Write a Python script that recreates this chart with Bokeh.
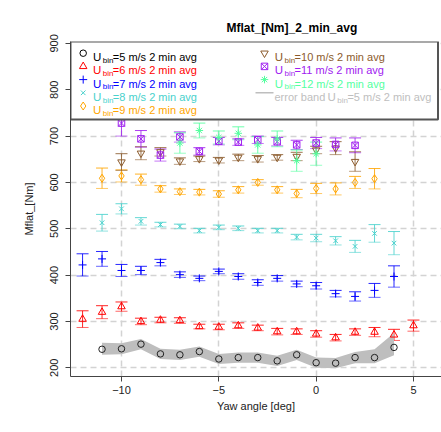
from bokeh.plotting import figure
from bokeh.models import ColumnDataSource, Whisker, TeeHead, FixedTicker, Range1d
from bokeh.core.properties import value
from bokeh.embed import file_html
from bokeh.resources import INLINE

# ---------------- data ----------------
yaw5 = [-11, -10, -9, -8, -7, -6, -5, -4, -3, -2, -1, 0, 1, 2, 3, 4]
m5 = [240, 241, 251, 230, 228, 235, 219, 222, 222, 215, 228, 211, 210, 222, 222, 244]
band5_upper = [254, 253, 262, 241, 239, 246, 230, 233, 233, 226, 239, 222, 221, 234, 240, 275]
band5_lower = [228, 229, 240, 219, 217, 224, 208, 211, 211, 204, 217, 200, 199, 210, 210, 227]

yaw6 = [-12, -11, -10, -9, -8, -7, -6, -5, -4, -3, -2, -1, 0, 1, 2, 3, 4, 5]
m6 = [305, 320, 332, 300, 303, 302, 289, 288, 291, 286, 278, 278, 273, 265, 277, 277, 271, 291]
e6 = [18, 14, 10, 7, 6, 6, 5, 6, 6, 6, 7, 6, 7, 7, 7, 10, 12, 12]

yaw7 = [-12, -11, -10, -9, -8, -7, -6, -5, -4, -3, -2, -1, 0, 1, 2, 3, 4]
m7 = [422, 435, 410, 410, 427, 401, 393, 408, 397, 384, 393, 381, 377, 360, 354, 367, 397]
e7 = [24, 16, 13, 9, 7, 6, 5, 5, 6, 6, 6, 6, 7, 7, 10, 15, 23]

yaw8 = [-11, -10, -9, -8, -7, -6, -5, -4, -3, -2, -1, 0, 1, 2, 3, 4]
m8 = [513, 543, 516, 509, 505, 496, 503, 501, 496, 496, 482, 480, 474, 462, 490, 469]
e8 = [18, 11, 8, 5, 5, 5, 5, 5, 5, 5, 6, 8, 9, 13, 19, 25]

yaw9 = [-11, -10, -9, -8, -7, -6, -5, -4, -3, -2, -1, 0, 1, 2, 3]
m9 = [609, 614, 606, 586, 580, 579, 575, 584, 600, 584, 576, 587, 586, 600, 608]
e9 = [22, 13, 12, 7, 6, 6, 7, 7, 6, 7, 9, 11, 13, 13, 22]

yaw10 = [-10, -9, -8, -7, -6, -5, -4, -3, -2, -1, 0, 1, 2]
m10 = [644, 663, 666, 646, 651, 648, 654, 651, 654, 656, 670, 674, 645]
e10 = [18, 14, 9, 7, 6, 6, 7, 7, 6, 9, 8, 14, 21]

yaw11 = [-10, -9, -8, -7, -6, -5, -4, -3, -2, -1, 0, 1, 2]
m11 = [728, 694, 659, 698, 667, 689, 687, 692, 688, 681, 685, 682, 680]
e11 = [28, 18, 13, 11, 8, 8, 7, 8, 9, 10, 12, 14, 16]

yaw12 = [-7, -6, -5, -4, -3, -2, -1, 0]
m12 = [685, 712, 697, 706, 681, 694, 647, 662]
e12 = [22, 16, 14, 14, 18, 17, 23, 25]

x_ticks = [-10, -5, 0, 5]
y_ticks = [200, 300, 400, 500, 600, 700, 800, 900]
legend_speeds = ["5", "6", "7", "8", "9", "10", "11", "12"]

# ---------------- styling ----------------
FONT = "Liberation Sans"
C5, C6, C7, C8 = "#000000", "#FF0000", "#0000FF", "#48D1CC"
C9, C10, C11, C12 = "#FFA500", "#8B5A2B", "#A020F0", "#54FF9F"
CBAND = "#BEBEBE"

# frame geometry (pixels) and data ranges
FL, FR, FT, FB = 70, 441, 41, 376
X0, X1 = -12.62, 6.44
Y0, Y1 = 181.2, 904.1


def px_x(px):
    return X0 + (px - FL) * (X1 - X0) / (FR - FL)


def px_y(py):
    return Y1 - (py - FT) * (Y1 - Y0) / (FB - FT)


p = figure(width=441, height=432, x_range=Range1d(X0, X1), y_range=Range1d(Y0, Y1),
           min_border_left=FL, min_border_right=0, min_border_top=FT, min_border_bottom=432 - FB,
           output_backend="svg", toolbar_location=None, title="Mflat_[Nm]_2_min_avg")
p.outline_line_color = None
p.background_fill_color = "white"
p.border_fill_color = "white"

p.title.text_font = FONT
p.title.text_font_size = "12px"
p.title.text_font_style = "bold"
p.title.text_color = "#000000"
p.title.align = "left"
p.title.offset = 156
p.title.standoff = 14

p.xaxis.ticker = FixedTicker(ticks=x_ticks)
p.yaxis.ticker = FixedTicker(ticks=y_ticks)
p.xaxis.axis_label = "Yaw angle [deg]"
p.yaxis.axis_label = "Mflat_[Nm]"
for ax in (p.xaxis[0], p.yaxis[0]):
    ax.axis_line_color = "#444444"
    ax.axis_line_width = 1
    ax.major_tick_line_color = "#444444"
    ax.major_tick_out = 5
    ax.major_tick_in = 0
    ax.minor_tick_line_color = None
    ax.major_label_text_font = FONT
    ax.major_label_text_font_size = "11px"
    ax.major_label_text_color = "#222222"
    ax.axis_label_text_font = FONT
    ax.axis_label_text_font_size = "11px"
    ax.axis_label_text_font_style = "normal"
    ax.axis_label_text_color = "#222222"
p.xaxis.major_label_standoff = 4
p.xaxis.axis_label_standoff = 3
p.yaxis.major_label_orientation = "vertical"
p.yaxis.major_label_standoff = 7
p.yaxis.axis_label_standoff = 13

for g in (p.xgrid[0], p.ygrid[0]):
    g.grid_line_color = "#D3D3D3"
    g.grid_line_width = 1.5
    g.grid_line_dash = "6 4"

# error band for 5 m/s
band_src = ColumnDataSource(dict(x=yaw5, lo=band5_lower, hi=band5_upper))
p.varea(x="x", y1="lo", y2="hi", source=band_src, fill_color=CBAND, fill_alpha=1.0)

series = [
    (yaw6, m6, e6, C6, "triangle", 7.5),
    (yaw7, m7, e7, C7, "cross", 8),
    (yaw8, m8, e8, C8, "x", 6.5),
    (yaw9, m9, e9, C9, "diamond", 8),
    (yaw10, m10, e10, C10, "inverted_triangle", 7.5),
    (yaw11, m11, e11, C11, "square_x", 6.5),
    (yaw12, m12, e12, C12, "asterisk", 7.5),
]

for xs, ms, es, col, mk, sz in series:
    src = ColumnDataSource(dict(x=xs, y=ms,
                                upper=[m + e for m, e in zip(ms, es)],
                                lower=[m - e for m, e in zip(ms, es)]))
    w = Whisker(source=src, base="x", upper="upper", lower="lower",
                line_color=col, line_alpha=0.85, line_width=1,
                upper_head=TeeHead(size=12, line_color=col, line_alpha=0.85, line_width=1),
                lower_head=TeeHead(size=12, line_color=col, line_alpha=0.6, line_width=1))
    p.add_layout(w)
    p.scatter("x", "y", source=src, marker=mk, size=sz, line_color=col,
              fill_color=None, line_width=1)

src5 = ColumnDataSource(dict(x=yaw5, y=m5))
p.scatter("x", "y", source=src5, marker="circle", size=6.5, line_color="#222222",
          fill_color=None, line_width=1)

# ---------------- legend (drawn by hand for the subscripts) ----------------
p.quad(left=[px_x(70)], right=[px_x(437.5)], top=[px_y(41)], bottom=[px_y(119)],
       fill_color="white", line_color="#555555", line_width=2)

row_base = [56.7, 69.9, 83.1, 96.3, 109.5]
col_sym = [82.7, 264.0]
col_txt = [92.4, 274.2]
leg_colors = [C5, C6, C7, C8, C9, C10, C11, C12]
leg_markers = ["circle", "triangle", "cross", "x", "diamond", "inverted_triangle", "square_x", "asterisk"]
leg_sizes = [6.5, 7.5, 8, 6.5, 8, 7.5, 6.5, 7.5]
slots = [(0, 0), (0, 1), (0, 2), (0, 3), (0, 4), (1, 0), (1, 1), (1, 2)]

u_x, u_y, b_x, b_y, r_x, r_txt, cols = [], [], [], [], [], [], []
for (c, r), spd, col, mk, sz in zip(slots, legend_speeds, leg_colors, leg_markers, leg_sizes):
    p.scatter([px_x(col_sym[c])], [px_y(row_base[r] - 4)], marker=mk, size=sz,
              line_color=col, fill_color=None, line_width=1)
    u_x.append(px_x(col_txt[c]))
    u_y.append(px_y(row_base[r]))
    b_x.append(px_x(col_txt[c] + 9.8))
    b_y.append(px_y(row_base[r] + 3.3))
    r_x.append(px_x(col_txt[c] + 19.9))
    r_txt.append("=" + spd + " m/s 2 min avg")
    cols.append(col)

# error band legend row
p.line([px_x(255), px_x(273)], [px_y(92.3), px_y(92.3)], line_color=CBAND, line_width=1.5)
p.text([px_x(274.0)], [px_y(96.3)], text=["error band"], text_font=value(FONT),
       text_font_size="11px", text_color=CBAND, text_baseline="alphabetic", text_align="left")
u_x.append(px_x(327.0)); u_y.append(px_y(96.3))
b_x.append(px_x(327.0 + 9.8)); b_y.append(px_y(96.3 + 3.3))
r_x.append(px_x(327.0 + 19.9)); r_txt.append("=" + legend_speeds[0] + " m/s 2 min avg")
cols.append(CBAND)

n = len(cols)
p.text(x=u_x, y=u_y, text=["U"] * n, text_color=cols, text_font=value(FONT),
       text_font_size="11.5px", text_baseline="alphabetic", text_align="left")
p.text(x=b_x, y=b_y, text=["bin"] * n, text_color=cols, text_font=value(FONT),
       text_font_size="8px", text_baseline="alphabetic", text_align="left")
p.text(x=r_x, y=u_y, text=r_txt, text_color=cols, text_font=value(FONT),
       text_font_size="11px", text_baseline="alphabetic", text_align="left")

open("out.html", "w").write(file_html(p, INLINE))
